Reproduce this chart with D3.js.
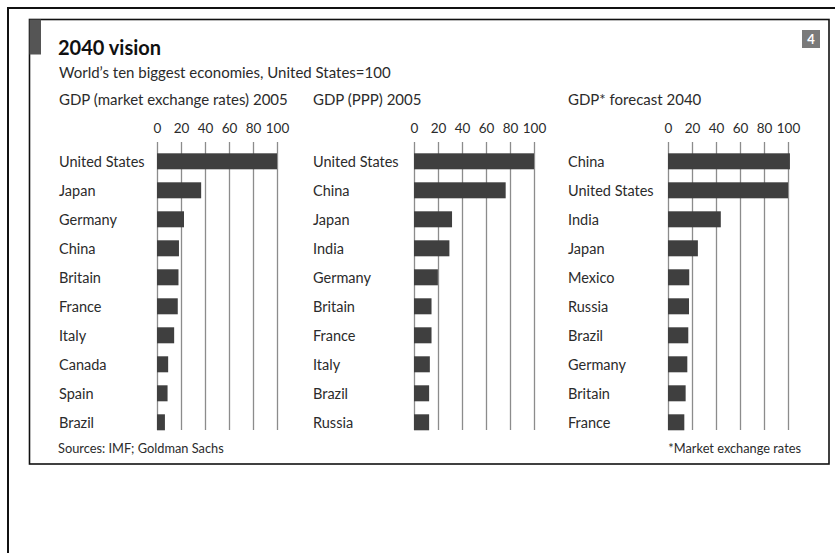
<!DOCTYPE html>
<html>
<head>
<meta charset="utf-8">
<script src="https://cdn.jsdelivr.net/npm/d3@7"></script>
<style>
  html, body { margin: 0; padding: 0; background: #fff; }
  svg { display: block; }
  text { font-family: Lato, "Open Sans", sans-serif; fill: #2b2b2b; }
</style>
</head>
<body>
<svg id="chart" width="835" height="553"></svg>
<script>
// GDP, United States = 100
const marketCountries = ["United States", "Japan", "Germany", "China", "Britain", "France", "Italy", "Canada", "Spain", "Brazil"];
const marketValues    = [100, 36.8, 22.5, 18.3, 17.9, 17.3, 14.3, 9.3, 8.8, 6.6];

const pppCountries = ["United States", "China", "Japan", "India", "Germany", "Britain", "France", "Italy", "Brazil", "Russia"];
const pppValues    = [100, 76.4, 31.7, 29.5, 19.9, 14.6, 14.6, 13.2, 12.6, 12.6];

const forecastCountries = ["China", "United States", "India", "Japan", "Mexico", "Russia", "Brazil", "Germany", "Britain", "France"];
const forecastValues    = [101.6, 100, 44, 24.9, 17.7, 17.5, 16.9, 16.1, 14.7, 13.6];

const tickValues = [0, 20, 40, 60, 80, 100];

const panelTitles = ["GDP (market exchange rates) 2005", "GDP (PPP) 2005", "GDP* forecast 2040"];

const svg = d3.select("#chart");

// outer frame (runs off the right and bottom edges)
svg.append("rect")
  .attr("x", 8).attr("y", 8).attr("width", 840).attr("height", 560)
  .attr("fill", "none").attr("stroke", "#111").attr("stroke-width", 2);

// chart box
svg.append("rect")
  .attr("x", 29.5).attr("y", 19.5).attr("width", 799.5).attr("height", 444.5)
  .attr("fill", "#fff").attr("stroke", "#111").attr("stroke-width", 1.6);

// corner tab
svg.append("rect")
  .attr("x", 29.5).attr("y", 19.5).attr("width", 11.5).attr("height", 35)
  .attr("fill", "#555");

// number badge
svg.append("rect")
  .attr("x", 802).attr("y", 30).attr("width", 18).attr("height", 18)
  .attr("fill", "#7a7a7a");
svg.append("text")
  .attr("x", 811).attr("y", 44)
  .attr("text-anchor", "middle")
  .style("fill", "#fff").style("font-size", "13px").style("font-weight", "bold")
  .text("4");

svg.append("text")
  .attr("x", 58).attr("y", 55)
  .style("font-size", "20px").style("font-weight", "bold").style("fill", "#111")
  .text("2040 vision");

svg.append("text")
  .attr("x", 59).attr("y", 78)
  .style("font-size", "15px")
  .text("World\u2019s ten biggest economies, United States=100");

const panels = [
  { title: panelTitles[0], names: marketCountries,   values: marketValues,   labelX: 59,  axisX: 157 },
  { title: panelTitles[1], names: pppCountries,      values: pppValues,      labelX: 313, axisX: 414 },
  { title: panelTitles[2], names: forecastCountries, values: forecastValues, labelX: 568, axisX: 668 }
];

const rowTop = 146.8, rowStep = 29;

panels.forEach(p => {
  const g = svg.append("g");

  const x = d3.scaleLinear().domain([0, 100]).range([p.axisX, p.axisX + 120]);
  const y = d3.scaleBand()
    .domain(p.names)
    .range([rowTop, rowTop + rowStep * p.names.length])
    .paddingInner(13 / 29)
    .paddingOuter(6.5 / 29);

  g.append("text")
    .attr("x", p.labelX).attr("y", 105)
    .style("font-size", "15px")
    .text(p.title);

  // axis: labels on top, ticks extended down as gridlines
  const axis = d3.axisTop(x)
    .tickValues(tickValues)
    .tickSize(-(430 - 142))
    .tickPadding(0)
    .tickFormat(d3.format("d"));

  const ax = g.append("g")
    .attr("transform", "translate(0,142)")
    .call(axis);
  ax.select(".domain").remove();
  ax.selectAll(".tick line")
    .attr("stroke", "#8c8c8c").attr("stroke-width", 1.3);
  ax.selectAll(".tick text")
    .attr("y", -9)
    .style("font-size", "13.5px")
    .style("font-family", "Lato, 'Open Sans', sans-serif")
    .attr("fill", "#2b2b2b");

  g.selectAll("rect.bar")
    .data(p.values)
    .join("rect")
    .attr("class", "bar")
    .attr("x", x(0))
    .attr("y", (d, i) => y(p.names[i]))
    .attr("width", d => x(d) - x(0))
    .attr("height", y.bandwidth())
    .attr("fill", "#3f3f3f");

  g.selectAll("text.name")
    .data(p.names)
    .join("text")
    .attr("class", "name")
    .attr("x", p.labelX)
    .attr("y", d => y(d) + y.bandwidth() / 2)
    .attr("dy", "0.36em")
    .style("font-size", "14.5px")
    .text(d => d);
});

svg.append("text")
  .attr("x", 58).attr("y", 453)
  .style("font-size", "12.8px")
  .text("Sources: IMF; Goldman Sachs");

svg.append("text")
  .attr("x", 801).attr("y", 453)
  .attr("text-anchor", "end")
  .style("font-size", "12.8px")
  .text("*Market exchange rates");
</script>
</body>
</html>
